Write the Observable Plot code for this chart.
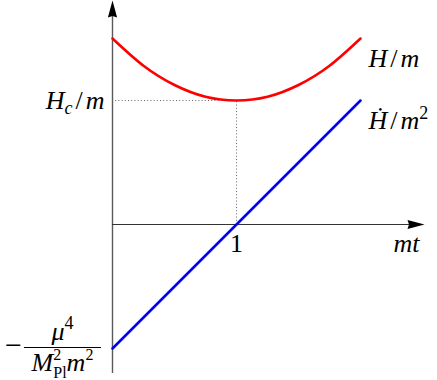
<!DOCTYPE html>
<html><head><meta charset="utf-8">
<script src="https://cdn.jsdelivr.net/npm/d3@7"></script>
<script src="https://cdn.jsdelivr.net/npm/@observablehq/plot@0.6"></script>
<style>body{margin:0;background:#fff}</style>
</head><body><div id="chart"></div>
<script>
// Data (x in units of mt, y in units of m)
const mt = [0, 0.25, 0.5, 0.75, 1, 1.25, 1.5, 1.75, 2];
const hubble = [1.5, 1.28, 1.125, 1.03, 1.0, 1.03, 1.125, 1.28, 1.5];   // H/m
const hdotT = [0, 2];
const hdot = [-1, 1];                                                   // Hdot/m^2
const hc = 1;          // H_c/m
const tOne = 1;        // tick "1"
const xDomain = [0, 2.516];
const yDomain = [-1.2016, 1.8065];

const FONT = "Liberation Serif";
const FS = 26;

const arrowUp = {draw(c){ c.moveTo(0,0); c.lineTo(4.6,17); c.lineTo(0,15.5); c.lineTo(-4.6,17); c.closePath(); }};
const arrowRight = {draw(c){ c.moveTo(0,0); c.lineTo(-17,4.6); c.lineTo(-15.5,0); c.lineTo(-17,-4.6); c.closePath(); }};

const red = mt.map((x,i)=>({x, y: hubble[i]}));
const blue = hdotT.map((x,i)=>({x, y: hdot[i]}));
const txt = {fontFamily: FONT, fontSize: FS, fill: "black"};

const chart = Plot.plot({
  width: 437, height: 380,
  marginLeft: 112, marginRight: 13, marginTop: 0, marginBottom: 7,
  x: {domain: xDomain, axis: null},
  y: {domain: yDomain, axis: null},
  style: {background: "white", overflow: "visible"},
  marks: [
    Plot.ruleY([hc], {x1: 0, x2: tOne, stroke: "#666", strokeWidth: 1, strokeDasharray: "1,2.2"}),
    Plot.ruleX([tOne], {y1: 0, y2: hc, stroke: "#666", strokeWidth: 1, strokeDasharray: "1,2.2"}),
    Plot.ruleX([0], {y1: yDomain[0], y2: yDomain[1] - 0.1, stroke: "#5a5a5a", strokeWidth: 1.4}),
    Plot.ruleY([0], {x1: 0, x2: xDomain[1] - 0.1, stroke: "#333", strokeWidth: 1.2}),
    Plot.dot([0], {x: 0, y: yDomain[1], symbol: arrowUp, fill: "black", stroke: "none"}),
    Plot.dot([0], {x: xDomain[1], y: 0, symbol: arrowRight, fill: "black", stroke: "none"}),
    Plot.line(red, {x: "x", y: "y", stroke: "#ff0000", strokeWidth: 2.6, curve: "natural"}),
    Plot.line(blue, {x: "x", y: "y", stroke: "#0000ff", strokeWidth: 2.6}),
    Plot.text(["H/m"], {x: mt.at(-1), y: hubble.at(-1), dx: 8, dy: 20, textAnchor: "start", ...txt}),
    Plot.text(["Hd/m2"], {x: hdotT.at(-1), y: hdot.at(-1), dx: 8, dy: 20, textAnchor: "start", ...txt}),
    Plot.text(["Hc/m"], {x: 0, y: hc, dx: -8, dy: 0, textAnchor: "end", ...txt}),
    Plot.text(["1"], {x: tOne, y: 0, dy: 19, textAnchor: "middle", ...txt}),
    Plot.text(["mt"], {x: xDomain[1], y: 0, dx: -5, dy: 19, textAnchor: "end", ...txt}),
    Plot.text(["\u2212"], {x: 0, y: hdot[0], dx: -99, dy: 6, lineAnchor: "bottom", textAnchor: "middle", fontFamily: FONT, fontSize: 30, fill: "black"}),
    Plot.text(["mu4"], {x: 0, y: hdot[0], dx: -50, dy: -9, lineAnchor: "bottom", textAnchor: "middle", ...txt}),
    Plot.text(["MPl"], {x: 0, y: hdot[0], dx: -50, dy: 22, lineAnchor: "bottom", textAnchor: "middle", ...txt}),
    Plot.ruleY([hdot[0]], {x1: -0.71, x2: -0.089, dy: -1, stroke: "black", strokeWidth: 1})
  ]
});
document.getElementById("chart").appendChild(chart);

function rich(key, parts) {
  d3.select(chart).selectAll("text").filter(function(){ return this.textContent === key; }).each(function(){
    const t = d3.select(this); t.text(null);
    for (const p of parts) {
      const s = t.append("tspan").text(p.t);
      if (p.i) s.attr("font-style", "italic");
      if (p.dx) s.attr("dx", p.dx);
      if (p.dy) s.attr("dy", p.dy);
      if (p.s) s.attr("font-size", p.s);
    }
  });
}
rich("H/m", [{t:"H",i:1},{t:"/",dx:3},{t:"m",i:1,dx:3}]);
rich("Hd/m2", [{t:"\u1E22",i:1},{t:"/",dx:3},{t:"m",i:1,dx:3},{t:"2",s:18,dy:-10}]);
rich("Hc/m", [{t:"H",i:1},{t:"c",i:1,s:18,dy:5},{t:"/",dx:3,dy:-5},{t:"m",i:1,dx:3}]);
rich("mt", [{t:"mt",i:1}]);
rich("mu4", [{t:"\u03BC",i:1},{t:"4",s:18,dy:-11}]);
rich("MPl", [{t:"M",i:1},{t:"2",s:16,dy:-11},{t:"Pl",s:16,dx:-8,dy:18},{t:"m",i:1,dy:-7},{t:"2",s:16,dy:-11}]);
</script>
</body></html>
